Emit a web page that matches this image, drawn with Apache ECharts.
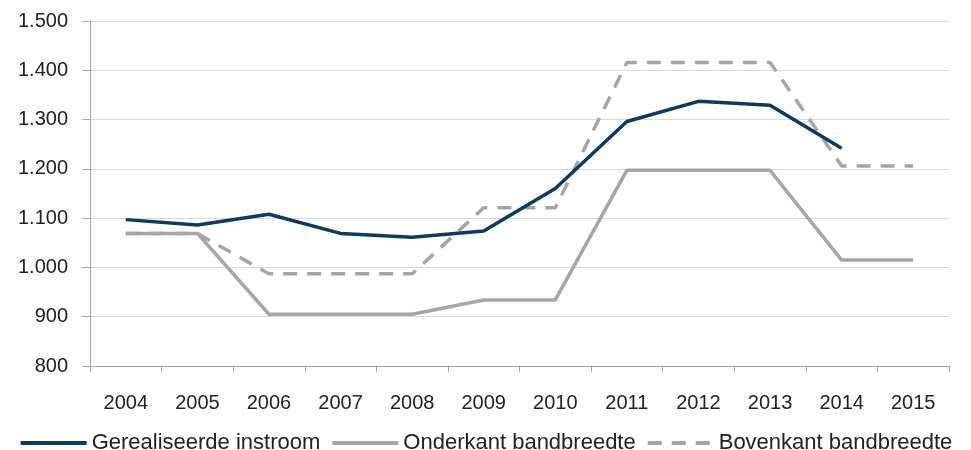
<!DOCTYPE html>
<html>
<head>
<meta charset="utf-8">
<script src="https://cdn.jsdelivr.net/npm/echarts@6/dist/echarts.min.js"></script>
<style>html,body{margin:0;padding:0;background:#fff;}#c{width:971px;height:450px;}</style>
</head>
<body>
<div id="c"></div>
<script>
var years = ['2004','2005','2006','2007','2008','2009','2010','2011','2012','2013','2014','2015'];
var gerealiseerde = [1097, 1086, 1108, 1069, 1061, 1074, 1160, 1296, 1337, 1329, 1242, null];
var onderkant = [1069, 1069, 905, 905, 905, 934, 934, 1197, 1197, 1197, 1015, 1015];
var bovenkant = [1069, 1069, 987, 987, 987, 1121, 1121, 1416, 1416, 1416, 1206, 1206];
var yTicks = { min: 800, max: 1500, interval: 100 };

var FONT = '"Liberation Sans", Arial, sans-serif';
var chart = echarts.init(document.getElementById('c'));
function fmt(v){ return String(v).replace(/\B(?=(\d{3})+(?!\d))/g, '.'); }
chart.setOption({
  animation: false,
  grid: { left: 90, right: 22, top: 21, bottom: 84, containLabel: false },
  legend: {
    top: 432,
    left: 'center',
    itemWidth: 66,
    itemHeight: 14,
    itemGap: 10,
    padding: 0,
    itemStyle: { opacity: 0 },
    lineStyle: { width: 4 },
    textStyle: { fontFamily: FONT, fontSize: 22, color: '#222' },
    data: ['Gerealiseerde instroom', 'Onderkant bandbreedte', 'Bovenkant bandbreedte']
  },
  xAxis: {
    type: 'category',
    data: years,
    boundaryGap: true,
    axisLine: { lineStyle: { color: '#A6A6A6', width: 1 } },
    axisTick: { show: true, length: 6, alignWithLabel: false, lineStyle: { color: '#A6A6A6' } },
    axisLabel: { fontFamily: FONT, fontSize: 20, color: '#222', margin: 27 }
  },
  yAxis: {
    type: 'value',
    min: yTicks.min, max: yTicks.max, interval: yTicks.interval,
    axisLine: { show: true, lineStyle: { color: '#A6A6A6', width: 1 } },
    axisTick: { show: true, length: 8, lineStyle: { color: '#A6A6A6' } },
    axisLabel: { fontFamily: FONT, fontSize: 20, color: '#222', margin: 22, formatter: fmt },
    splitLine: { lineStyle: { color: '#D9D9D9', width: 1 } }
  },
  series: [
    { name: 'Bovenkant bandbreedte', type: 'line', data: bovenkant, symbol: 'none',
      lineStyle: { color: '#A6A6A6', width: 3.5, type: [14, 10] }, itemStyle: { color: '#A6A6A6' } },
    { name: 'Onderkant bandbreedte', type: 'line', data: onderkant, symbol: 'none',
      lineStyle: { color: '#A6A6A6', width: 3.5 }, itemStyle: { color: '#A6A6A6' } },
    { name: 'Gerealiseerde instroom', type: 'line', data: gerealiseerde, symbol: 'none',
      lineStyle: { color: '#0D3A62', width: 3.5 }, itemStyle: { color: '#0D3A62' } }
  ]
});
</script>
</body>
</html>
